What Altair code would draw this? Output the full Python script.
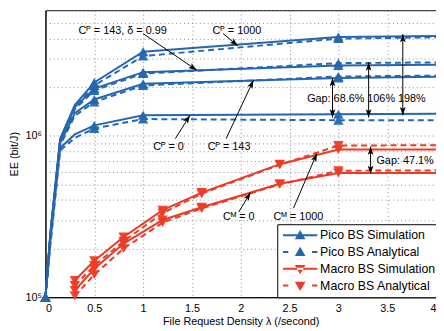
import math
import altair as alt
import pandas as pd

# ---------------- data ----------------
pico_x = [0, 0.05, 0.15, 0.3, 0.5, 1, 3, 4]
pico_marker_x = [0, 0.5, 1, 3]
p1000_sim = [1e5, 2.5e5, 9.6e5, 1.55e6, 2.14e6, 3.32e6, 4.09e6, 4.16e6]
p1000_ana = [1e5, 2.4e5, 9.3e5, 1.50e6, 2.05e6, 3.12e6, 4.00e6, 4.08e6]
p143d_sim = [1e5, 2.5e5, 9.4e5, 1.50e6, 1.96e6, 2.48e6, 2.73e6, 2.76e6]
p143d_ana = [1e5, 2.4e5, 9.1e5, 1.46e6, 1.91e6, 2.43e6, 2.82e6, 2.85e6]
p143_sim = [1e5, 2.4e5, 9.0e5, 1.38e6, 1.68e6, 2.10e6, 2.28e6, 2.32e6]
p143_ana = [1e5, 2.3e5, 8.7e5, 1.33e6, 1.62e6, 2.05e6, 2.33e6, 2.36e6]
p0_sim = [1e5, 2.2e5, 8.4e5, 1.02e6, 1.16e6, 1.34e6, 1.36e6, 1.37e6]
p0_ana = [1e5, 2.1e5, 8.1e5, 0.97e6, 1.11e6, 1.27e6, 1.25e6, 1.25e6]

macro_x = [0.3, 0.5, 0.8, 1.2, 1.6, 2.4, 3, 4]
macro_marker_x = [0.3, 0.5, 0.8, 1.2, 1.6, 2.4, 3]
m1000_sim = [1.27e5, 1.68e5, 2.36e5, 3.46e5, 4.45e5, 6.67e5, 8.22e5, 8.22e5]
m1000_ana = [1.18e5, 1.57e5, 2.22e5, 3.32e5, 4.38e5, 6.62e5, 8.70e5, 8.75e5]
m0_sim = [1.10e5, 1.50e5, 2.15e5, 3.01e5, 3.61e5, 5.05e5, 5.89e5, 5.89e5]
m0_ana = [1.02e5, 1.38e5, 2.00e5, 2.90e5, 3.55e5, 5.00e5, 6.08e5, 6.10e5]

legend_names = ["Pico BS Simulation", "Pico BS Analytical",
                "Macro BS Simulation", "Macro BS Analytical"]

ann_text = ["Cᴾ = 143, δ = 0.99", "Cᴾ = 1000", "Cᴾ = 0", "Cᴾ = 143",
            "Cᴹ = 0", "Cᴹ = 1000"]
ann_x = [0.79, 1.96, 1.26, 1.88, 1.98, 2.59]
ann_y = [4.45e6, 4.45e6, 8.46e5, 8.46e5, 3.14e5, 3.14e5]

gap_text = ["Gap: 68.6% 106% 198%", "Gap: 47.1%"]
gap_x = [2.68, 3.39]
gap_y = [1.68e6, 6.96e5]

# arrows: tail (x1,y1) -> tip (x2,y2); both = double headed
arrow_x1 = [1.00, 1.82, 1.33, 1.85, 1.98, 2.54, 2.94, 3.31, 3.66, 3.33]
arrow_y1 = [4.30e6, 4.30e6, 9.6e5, 9.6e5, 3.37e5, 3.56e5, 1.30e6, 1.30e6, 1.34e6, 5.80e5]
arrow_x2 = [1.55, 1.97, 1.48, 2.13, 2.10, 2.78, 2.94, 3.31, 3.66, 3.33]
arrow_y2 = [2.55e6, 3.61e6, 1.34e6, 2.21e6, 4.45e5, 7.78e5, 2.28e6, 2.85e6, 4.27e6, 8.58e5]
arrow_both = [False, False, False, False, False, False, True, True, True, True]

# ---------------- layout ----------------
W, H = 396, 291
X_DOM = [0, 4]
Y_DOM = [1e5, 6e6]
BLUE = "#2566b0"
RED = "#ee3a25"
FONT = "Liberation Sans"


def px(x):
    return (x - X_DOM[0]) / (X_DOM[1] - X_DOM[0]) * W


def py(y):
    return H * (math.log10(Y_DOM[1]) - math.log10(y)) / (math.log10(Y_DOM[1]) - math.log10(Y_DOM[0]))


rows = []
series = [
    ("p1000", "Pico", "sim", pico_x, p1000_sim, pico_marker_x),
    ("p1000", "Pico", "ana", pico_x, p1000_ana, pico_marker_x),
    ("p143d", "Pico", "sim", pico_x, p143d_sim, pico_marker_x),
    ("p143d", "Pico", "ana", pico_x, p143d_ana, pico_marker_x),
    ("p143", "Pico", "sim", pico_x, p143_sim, pico_marker_x),
    ("p143", "Pico", "ana", pico_x, p143_ana, pico_marker_x),
    ("p0", "Pico", "sim", pico_x, p0_sim, pico_marker_x),
    ("p0", "Pico", "ana", pico_x, p0_ana, pico_marker_x),
    ("m1000", "Macro", "sim", macro_x, m1000_sim, macro_marker_x),
    ("m1000", "Macro", "ana", macro_x, m1000_ana, macro_marker_x),
    ("m0", "Macro", "sim", macro_x, m0_sim, macro_marker_x),
    ("m0", "Macro", "ana", macro_x, m0_ana, macro_marker_x),
]
for name, fam, kind, xs, ys, mks in series:
    for xv, yv in zip(xs, ys):
        rows.append(dict(curve=name + kind, family=fam, kind=kind, x=xv, y=yv,
                         marker=xv in mks))
df = pd.DataFrame(rows)

arr = pd.DataFrame(dict(x=arrow_x1, y=arrow_y1, x2=arrow_x2, y2=arrow_y2))
heads = []
for x1, y1, x2, y2, both in zip(arrow_x1, arrow_y1, arrow_x2, arrow_y2, arrow_both):
    dx, dy = px(x2) - px(x1), py(y2) - py(y1)
    ang = math.degrees(math.atan2(dx, -dy)) % 360
    heads.append(dict(x=x2, y=y2, angle=ang))
    if both:
        heads.append(dict(x=x1, y=y1, angle=(ang + 180) % 360))
heads = pd.DataFrame(heads)

ann = pd.DataFrame(dict(t=ann_text, x=ann_x, y=ann_y))
gaps = pd.DataFrame(dict(t=gap_text, x=gap_x, y=gap_y))
leg = pd.DataFrame(dict(s=legend_names, x=[2] * 4, y=[1e4] * 4))

# ---------------- encodings ----------------
X = alt.X("x:Q", scale=alt.Scale(domain=X_DOM, nice=False, zero=False),
          axis=alt.Axis(values=[0, 0.5, 1, 1.5, 2, 2.5, 3, 3.5, 4], format="~g",
                        title="File Request Density λ (/second)", grid=True,
                        ticks=False, labelPadding=5, titlePadding=3))
Y = alt.Y("y:Q", scale=alt.Scale(type="log", domain=Y_DOM, nice=False),
          axis=alt.Axis(values=[1e5, 2e5, 3e5, 4e5, 5e5, 6e5, 7e5, 8e5, 9e5,
                                1e6, 2e6, 3e6, 4e6, 5e6, 6e6],
                        labelExpr="datum.value == 100000 ? '10⁵' : (datum.value == 1000000 ? '10⁶' : '')",
                        title="EE (bit/J)", grid=True, ticks=False,
                        labelPadding=4, titlePadding=6))
COL = alt.Color("family:N", scale=alt.Scale(domain=["Pico", "Macro"], range=[BLUE, RED]),
                legend=None)

base = alt.Chart(df)
solid = base.transform_filter("datum.kind == 'sim'").mark_line(strokeWidth=2).encode(
    x=X, y=Y, color=COL, detail="curve:N", order="x:Q")
dashed = base.transform_filter("datum.kind == 'ana'").mark_line(
    strokeWidth=2, strokeDash=[6, 4]).encode(x=X, y=Y, color=COL, detail="curve:N", order="x:Q")
markers_p = base.transform_filter("datum.marker && datum.family == 'Pico'").mark_point(
    shape="triangle-up", filled=True, size=110, opacity=0.95).encode(x=X, y=Y, color=COL)
markers_m = base.transform_filter("datum.marker && datum.family == 'Macro'").mark_point(
    shape="triangle-down", filled=True, size=110, opacity=0.95).encode(x=X, y=Y, color=COL)

rules = alt.Chart(arr).mark_rule(color="black", strokeWidth=1).encode(
    x=X, y=Y, x2="x2:Q", y2="y2:Q")
ARROW = "M0,0L-0.55,1.6L0,1.25L0.55,1.6Z"
arrowheads = alt.Chart(heads).mark_point(
    shape=ARROW, filled=True, color="black", size=110, opacity=1).encode(
    x=X, y=Y, angle=alt.Angle("angle:Q", scale=None))

labels = alt.Chart(ann).mark_text(font=FONT, fontSize=11, color="black",
                                  align="center", baseline="middle").encode(
    x=X, y=Y, text="t:N")
gaplabels = alt.Chart(gaps).mark_text(font=FONT, fontSize=11, color="black",
                                      align="left", baseline="middle").encode(
    x=X, y=Y, text="t:N")

# legend glyphs: line (as thin filled bars) plus triangle, in unit coordinates
SOLID_BAR = "M-2.9,-0.17H2.9V0.17H-2.9Z"
DASH_BARS = "M-2.9,-0.17H-2.0V0.17H-2.9ZM2.0,-0.17H2.9V0.17H2.0Z"
TRI_UP = "M0,-0.9L0.9,0.65L-0.9,0.65Z"
TRI_DOWN = "M0,0.9L0.9,-0.65L-0.9,-0.65Z"
PATHS = [SOLID_BAR + TRI_UP, DASH_BARS + TRI_UP, SOLID_BAR + TRI_DOWN, DASH_BARS + TRI_DOWN]
legcols = [BLUE, BLUE, RED, RED]
LEG = alt.Legend(title=None, orient="none", legendX=235, legendY=217,
                 symbolSize=144, symbolOffset=12, symbolStrokeWidth=0,
                 labelOffset=14, labelFont=FONT, labelFontSize=12.5,
                 labelColor="black", rowPadding=4, padding=5,
                 strokeColor="black", fillColor="white", labelLimit=200)
legend_layer = alt.Chart(leg).mark_point(filled=True, opacity=1, clip=True).encode(
    x=X, y=Y,
    shape=alt.Shape("s:N", scale=alt.Scale(domain=legend_names, range=PATHS), legend=LEG),
    fill=alt.Fill("s:N", scale=alt.Scale(domain=legend_names, range=legcols), legend=LEG),
)

chart = alt.layer(solid, dashed, markers_p, markers_m, rules, arrowheads, labels,
                  gaplabels, legend_layer).properties(
    width=W, height=H,
    autosize=alt.AutoSizeParams(type="none"),
    padding={"left": 38, "top": 0, "right": 0, "bottom": 31},
).configure_view(stroke="black", strokeWidth=1).configure_axis(
    labelFont=FONT, labelFontSize=11, labelColor="black",
    titleFont=FONT, titleFontSize=11, titleFontWeight="normal", titleColor="black",
    domainColor="black", gridColor="#8a8a8a", gridDash=[1, 3], gridWidth=1,
)

chart.save("out.html", embed_options={"renderer": "svg", "actions": False})
